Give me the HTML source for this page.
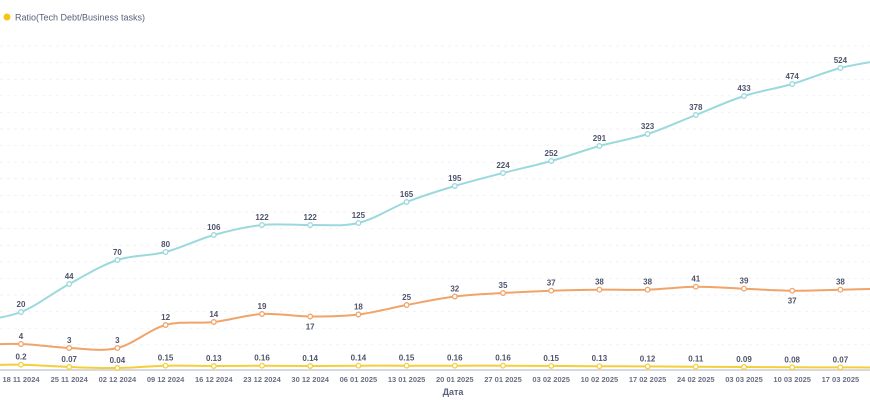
<!DOCTYPE html>
<html><head><meta charset="utf-8"><style>
html,body{margin:0;padding:0;background:#fff;width:870px;height:400px;overflow:hidden}
svg text{font-family:"Liberation Sans",sans-serif}
</style></head><body>
<svg id="s" width="870" height="400" xmlns="http://www.w3.org/2000/svg">
<circle cx="7" cy="17" r="3.5" fill="#f5c518"/>
<text x="15" y="20.5" font-size="9" fill="#5a5f78">Ratio(Tech Debt/Business tasks)</text>
</svg>
<script>
const s=document.getElementById('s');const NS='http://www.w3.org/2000/svg';
function el(t,a,txt){const e=document.createElementNS(NS,t);for(const k in a)e.setAttribute(k,a[k]);if(txt!==undefined)e.textContent=txt;s.appendChild(e);return e;}
for(let y=46;y<360;y+=16.6){el('line',{x1:0,x2:870,y1:y,y2:y,stroke:'#f1f2f5','stroke-width':1,'stroke-dasharray':'3,4'});}
const X=i=>21+48.2*i;
const dates=["18 11 2024","25 11 2024","02 12 2024","09 12 2024","16 12 2024","23 12 2024","30 12 2024","06 01 2025","13 01 2025","20 01 2025","27 01 2025","03 02 2025","10 02 2025","17 02 2025","24 02 2025","03 03 2025","10 03 2025","17 03 2025","24 03 2025"];
const teal={c:'#9bd9dd',v:["20","44","70","80","106","122","122","125","165","195","224","252","291","323","378","433","474","524"],y:[312,284,260,252,235,225,225,223,202,186,173,161,146,134,115,96,84,68],pre:322,post:59};
const orng={c:'#f0a46a',v:["4","3","3","12","14","19","17","18","25","32","35","37","38","38","41","39","37","38"],y:[344,348,348,325,322,314,316.5,314.5,305,296.5,293,290.7,289.7,289.7,286.7,288.7,290.7,289.7],pre:345,post:288.5,below:[6,16]};
const yel={c:'#f5cf3a',v:["0.2","0.07","0.04","0.15","0.13","0.16","0.14","0.14","0.15","0.16","0.16","0.15","0.13","0.12","0.11","0.09","0.08","0.07"],y:[364.7,367,368,365.7,366,365.7,366,365.7,365.7,365.7,365.7,365.9,366.2,366.4,366.7,367,367.3,367.4],pre:365.5,post:367.5};
function path(pts){let d='M'+pts[0][0]+','+pts[0][1];for(let i=0;i<pts.length-1;i++){const p0=pts[Math.max(0,i-1)],p1=pts[i],p2=pts[i+1],p3=pts[Math.min(pts.length-1,i+2)];const c1=[p1[0]+(p2[0]-p0[0])/6,p1[1]+(p2[1]-p0[1])/6],c2=[p2[0]-(p3[0]-p1[0])/6,p2[1]-(p3[1]-p1[1])/6];d+=`C${c1[0]},${c1[1]} ${c2[0]},${c2[1]} ${p2[0]},${p2[1]}`;}return d;}
el('line',{x1:0,x2:870,y1:370,y2:370,stroke:'#d8d9e0','stroke-width':2});
for(const S of [teal,orng,yel]){
 const pts=[[X(-1),S.pre]];S.y.forEach((y,i)=>pts.push([X(i),y]));pts.push([X(18),S.post]);
 el('path',{d:path(pts),fill:'none',stroke:S.c,'stroke-width':2});
 S.y.forEach((y,i)=>{el('circle',{cx:X(i),cy:y,r:2.3,fill:'#fff',stroke:S.c,'stroke-width':1.3});
  const b=S.below&&S.below.includes(i);
  el('text',{x:X(i),y:b?y+13:y-5,'font-size':8,'font-weight':'bold',fill:'#4f546b','text-anchor':'middle'},S.v[i]);});
}
dates.forEach((d,i)=>el('text',{x:X(i),y:382,'font-size':7.5,'font-weight':'bold',fill:'#6b6f84','text-anchor':'middle'},d));
el('text',{x:453,y:395,'font-size':9,'font-weight':'bold',fill:'#5a5f78','text-anchor':'middle'},'Дата');
</script>
</body></html>
